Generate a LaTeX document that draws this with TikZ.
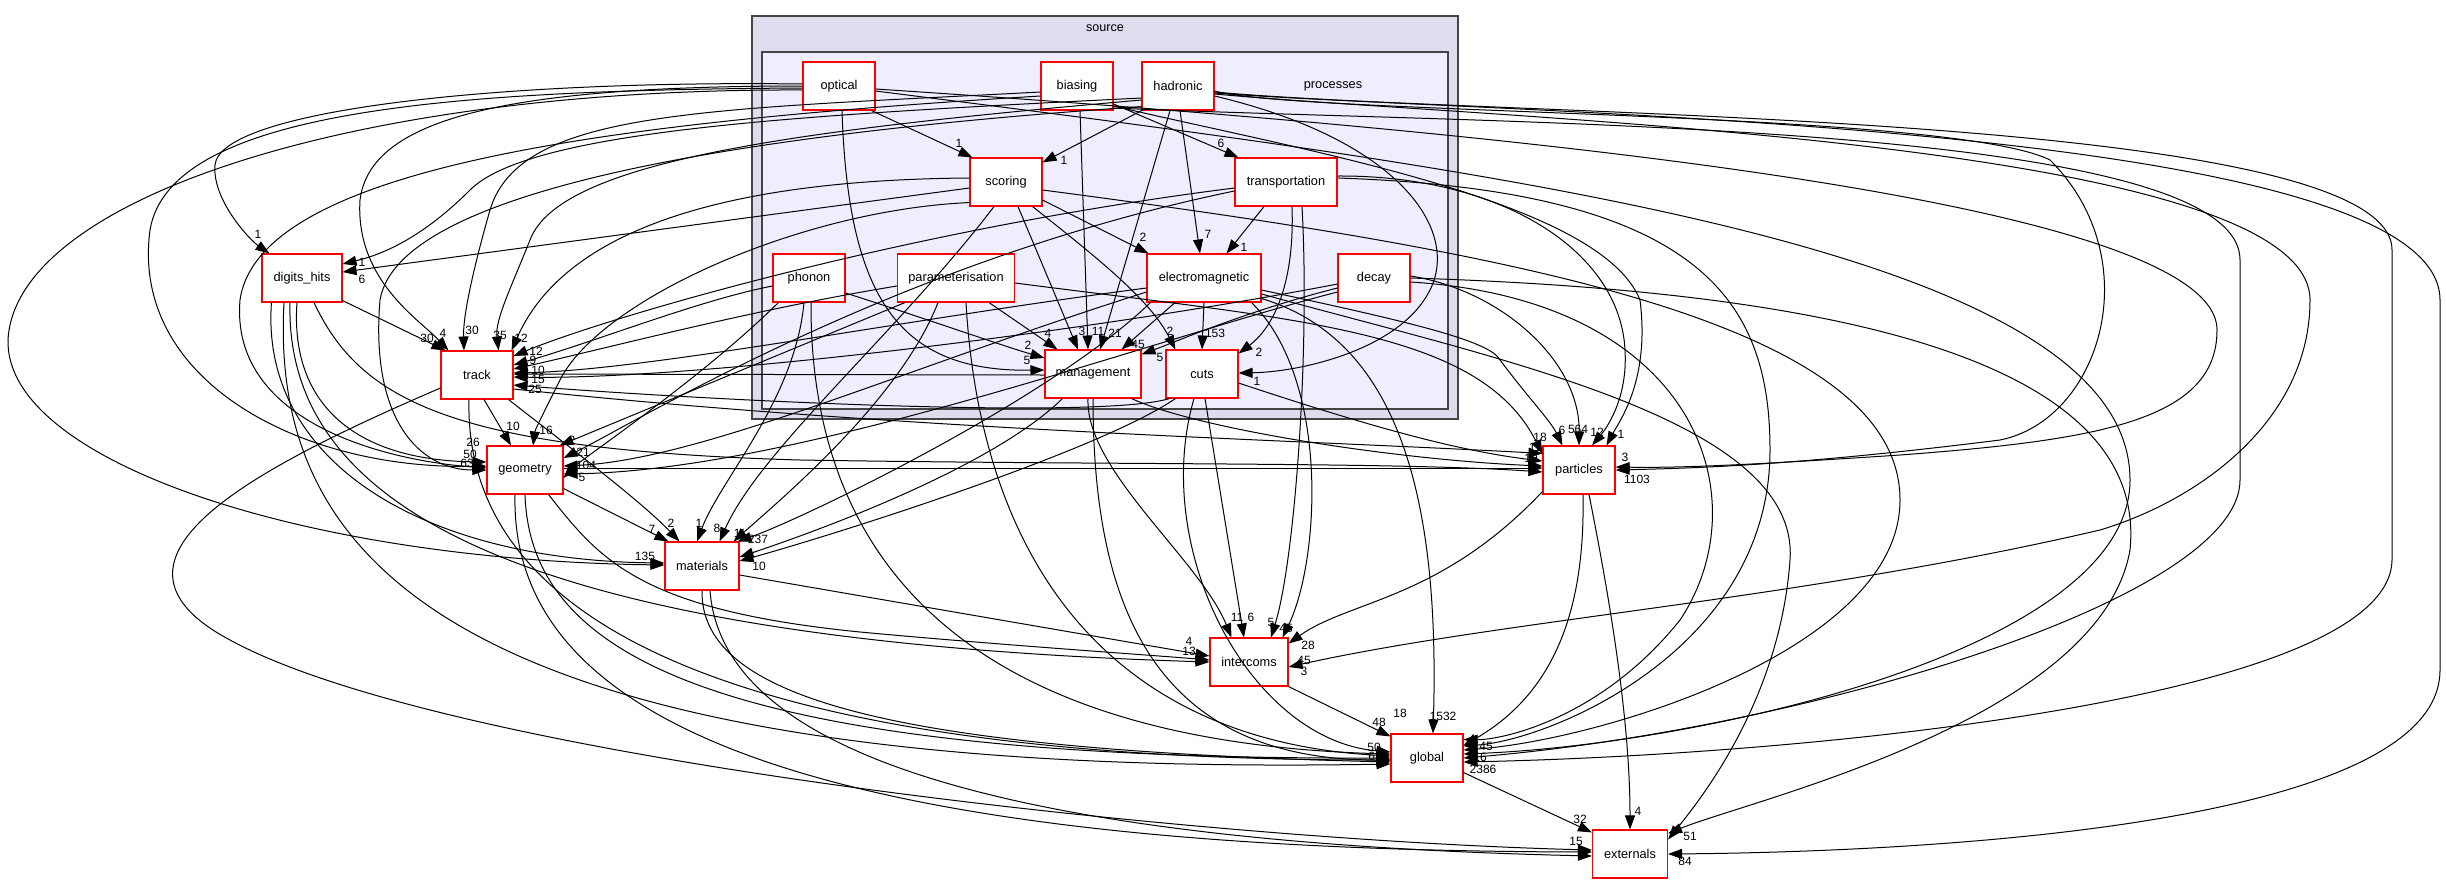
\documentclass[tikz,border=0pt]{standalone}
\usepackage{fontspec}
\setmainfont{Liberation Sans}
\usetikzlibrary{arrows.meta,calc}
\definecolor{srcfill}{HTML}{DDDDEE}
\definecolor{procfill}{HTML}{EEEEFF}
\definecolor{clline}{HTML}{444444}
\begin{document}
\begin{tikzpicture}[x=1pt,y=-1pt,
  dirbox/.style={draw=red, line width=1.1pt, fill=white, minimum height=48pt, minimum width=72pt, inner sep=0pt, font=\fontsize{12.8}{14}\selectfont},
  edge/.style={draw=black, line width=1pt, -{Triangle[length=14pt,width=10pt]}},
  lab/.style={font=\fontsize{12}{14}\selectfont, inner sep=0pt},
  cl/.style={draw=clline, line width=2pt}
]
\useasboundingbox (0,0) rectangle (2446,884);
\fill[white] (0,0) rectangle (2446,884);
% clusters
\draw[cl, fill=srcfill] (752,16) rectangle (1458,419);
\node[font=\fontsize{12.6}{14}\selectfont, inner sep=0pt] (srclab) at (1105,28) {source};
\draw[cl, fill=procfill] (762,52) rectangle (1448,409);
\node[font=\fontsize{12.8}{14}\selectfont, inner sep=0pt] (proclab) at (1333,86) {processes};
% nodes
\node[dirbox] (optical) at (839,86) {optical};
\node[dirbox] (biasing) at (1077,86) {biasing};
\node[dirbox] (hadronic) at (1178,86) {hadronic};
\node[dirbox] (scoring) at (1006,182) {scoring};
\node[dirbox, minimum width=102pt] (transportation) at (1286,182) {transportation};
\node[dirbox] (phonon) at (809,278) {phonon};
\node[dirbox, minimum width=117pt] (param) at (956,278) {parameterisation};
\node[dirbox, minimum width=114pt] (em) at (1204,278) {electromagnetic};
\node[dirbox] (decay) at (1374,278) {decay};
\node[dirbox, minimum width=96pt] (management) at (1093,374) {management};
\node[dirbox] (cuts) at (1202,374) {cuts};
\node[dirbox, minimum width=80pt] (digits) at (302,278) {digits\_hits};
\node[dirbox] (track) at (477,375) {track};
\node[dirbox, minimum width=76pt] (geometry) at (525,470) {geometry};
\node[dirbox, minimum width=74pt] (materials) at (702,566) {materials};
\node[dirbox] (particles) at (1579,470) {particles};
\node[dirbox, minimum width=78pt] (intercoms) at (1249,662) {intercoms};
\node[dirbox] (global) at (1427,758) {global};
\node[dirbox, minimum width=75pt] (externals) at (1630,854) {externals};

% ---------- edges inside processes ----------
\draw[edge] ($(optical.south east)+(-4,0)$) -- ($(scoring.north west)+(3,0)$);
\draw[edge] ($(hadronic.south west)+(4,-2)$) -- ($(scoring.north east)+(0,5)$);
\draw[edge] ($(biasing.east)+(0,18)$) -- ($(transportation.north west)+(4,0)$);
\draw[edge] ($(hadronic.south)+(2,0)$) -- ($(em.north)+(-4,0)$);
\draw[edge] ($(scoring.east)+(0,18)$) -- ($(em.north west)+(2,0)$);
\draw[edge] ($(transportation.south)+(-22,0)$) -- ($(em.north east)+(-35,0)$);
\draw[edge] ($(scoring.south)+(12,0)$) -- ($(management.north)+(-15,0)$);
\draw[edge] ($(biasing.south)+(3,0)$) -- ($(management.north)+(-5,0)$);
\draw[edge] ($(hadronic.south)+(-8,0)$) -- ($(management.north)+(7,0)$);
\draw[edge] ($(param.south)+(33,0)$) -- ($(management.north west)+(13,0)$);
\draw[edge] ($(phonon.east)+(0,15)$) .. controls (930,320) and (1000,345) .. ($(management.west)+(0,-16)$);
\draw[edge] ($(optical.south)+(3,0)$) .. controls (848,300) and (900,372) .. ($(management.west)+(0,-4)$);
\draw[edge] ($(em.south)+(-29,0)$) -- ($(management.north east)+(-20,0)$);
\draw[edge] ($(decay.west)+(0,10)$) .. controls (1250,310) and (1180,340) .. ($(management.north east)+(0,5)$);
\draw[edge] ($(scoring.south east)+(-10,0)$) .. controls (1100,260) and (1150,300) .. ($(cuts.north west)+(10,0)$);
\draw[edge] (em.south) -- (cuts.north);
\draw[edge] ($(transportation.south)+(6,0)$) .. controls (1295,290) and (1270,330) .. ($(cuts.north east)+(0,4)$);
\draw[edge] ($(hadronic.east)+(0,10)$) .. controls (1400,140) and (1460,230) .. (1430,290) .. controls (1400,350) and (1300,372) .. ($(cuts.east)+(0,-1)$);

% ---------- edges among outer dirs ----------
\draw[edge] ($(digits.south east)+(0,-2)$) -- ($(track.north west)+(5,0)$);
\draw[edge] ($(track.south)+(7,0)$) -- ($(geometry.north)+(-14,0)$);
\draw[edge] ($(track.south east)+(-5,0)$) .. controls (560,440) and (640,500) .. ($(materials.north west)+(15,0)$);
\draw[edge] ($(geometry.south east)+(0,-6)$) -- ($(materials.north west)+(4,0)$);
\draw[edge] (intercoms.south east) -- ($(global.north west)+(0,3)$);
\draw[edge] ($(global.south east)+(0,-10)$) -- ($(externals.north west)+(0,3)$);
\draw[edge] ($(particles.south west)+(0,-3)$) .. controls (1440,600) and (1350,600) .. ($(intercoms.north east)+(0,6)$);
\draw[edge] ($(particles.south)+(4,0)$) .. controls (1585,600) and (1560,690) .. ($(global.north east)+(0,12)$);
\draw[edge] ($(particles.south)+(10,0)$) .. controls (1610,600) and (1630,720) .. (externals.north);
\draw[edge] ($(materials.east)+(0,9)$) -- ($(intercoms.west)+(0,-6)$);
\draw[edge] (materials.south) .. controls (700,700) and (900,750) .. ($(global.west)+(0,4)$);
\draw[edge] ($(materials.south)+(8,0)$) .. controls (720,720) and (900,840) .. ($(externals.west)+(0,2)$);
\draw[edge] ($(geometry.south east)+(-15,0)$) .. controls (600,560) and (640,610) .. (860,632) .. controls (1000,645) and (1150,655) .. ($(intercoms.west)+(0,-2)$);
\draw[edge] (geometry.south) .. controls (530,650) and (700,760) .. ($(global.west)+(0,0)$);
\draw[edge] ($(geometry.south)+(-10,0)$) .. controls (510,720) and (800,850) .. ($(externals.west)+(0,-2)$);
\draw[edge] ($(track.west)+(0,13)$) .. controls (250,470) and (80,560) .. (230,640) .. controls (450,760) and (1200,840) .. ($(externals.west)+(0,-4)$);
\draw[edge] ($(track.south)+(-8,0)$) .. controls (465,560) and (600,760) .. ($(global.west)+(0,2)$);
\draw[edge] ($(track.east)+(0,14)$) .. controls (900,430) and (1300,440) .. ($(particles.north west)+(0,8)$);
\draw[edge] ($(digits.south)+(-5,0)$) .. controls (290,400) and (350,460) .. ($(geometry.west)+(0,-8)$);
\draw[edge] ($(digits.south)+(-12,0)$) .. controls (285,500) and (500,640) .. ($(intercoms.west)+(0,0)$);
\draw[edge] ($(digits.south)+(-18,0)$) .. controls (270,560) and (450,780) .. ($(global.west)+(0,6)$);
\draw[edge] ($(digits.south)+(12,0)$) .. controls (360,400) and (450,450) .. (800,460) .. controls (1100,465) and (1400,462) .. ($(particles.west)+(0,2)$);
\draw[edge] ($(digits.south west)+(10,0)$) .. controls (260,460) and (420,560) .. ($(materials.west)+(0,-3)$);
\draw[edge] ($(geometry.east)+(0,-2)$) -- ($(particles.west)+(0,-2)$);

% ---------- optical ----------
\draw[edge] ($(optical.west)+(0,-2)$) .. controls (500,80) and (220,110) .. (215,165) .. controls (212,200) and (250,240) .. ($(digits.north west)+(8,0)$);
\draw[edge] (optical.west) .. controls (500,86) and (370,120) .. (360,200) .. controls (355,280) and (420,320) .. ($(track.north west)+(8,0)$);
\draw[edge] ($(optical.west)+(0,2)$) .. controls (450,90) and (170,110) .. (150,230) .. controls (130,380) and (300,470) .. ($(geometry.west)+(0,-4)$);
\draw[edge] ($(optical.west)+(0,4)$) .. controls (350,88) and (15,200) .. (8,340) .. controls (5,460) and (300,560) .. ($(materials.west)+(0,-1)$);
\draw[edge] ($(optical.east)+(0,5)$) .. controls (1500,170) and (2130,250) .. (2130,480) .. controls (2130,650) and (1700,745) .. ($(global.east)+(0,-4)$);
\draw[edge] ($(optical.east)+(0,3)$) .. controls (1500,130) and (2217,200) .. (2217,330) .. controls (2217,420) and (2100,440) .. (1900,455) .. controls (1750,465) and (1680,468) .. ($(particles.east)+(0,-3)$);

% ---------- biasing ----------
\draw[edge] ($(biasing.west)+(0,6)$) .. controls (700,110) and (520,110) .. (490,210) .. controls (470,280) and (463,320) .. ($(track.north)+(-13,0)$);
\draw[edge] ($(biasing.west)+(0,10)$) .. controls (650,120) and (260,160) .. (240,300) .. controls (230,420) and (380,460) .. ($(geometry.west)+(0,-2)$);
\draw[edge] ($(biasing.east)+(0,20)$) .. controls (1300,150) and (1600,200) .. (1640,300) .. controls (1650,380) and (1620,420) .. ($(particles.north east)+(-9,0)$);
\draw[edge] ($(biasing.east)+(0,22)$) .. controls (1500,125) and (2240,120) .. (2240,260) -- (2240,480) .. controls (2240,600) and (1800,730) .. ($(global.east)+(0,0)$);

% ---------- hadronic ----------
\draw[edge] ($(hadronic.west)+(0,12)$) .. controls (800,115) and (530,130) .. (470,190) .. controls (420,240) and (380,255) .. ($(digits.east)+(0,-14)$);
\draw[edge] ($(hadronic.west)+(0,14)$) .. controls (800,130) and (560,160) .. (530,240) .. controls (510,290) and (495,320) .. ($(track.north east)+(-15,0)$);
\draw[edge] ($(hadronic.south west)+(0,-4)$) .. controls (800,130) and (400,180) .. (380,300) .. controls (370,420) and (420,470) .. ($(geometry.west)+(0,0)$);
\draw[edge] ($(hadronic.east)+(0,5)$) .. controls (1300,115) and (1950,110) .. (2050,160) .. controls (2150,260) and (2100,420) .. (2000,440) .. controls (1800,465) and (1700,468) .. (particles.east);
\draw[edge] ($(hadronic.east)+(0,6)$) .. controls (1500,118) and (2392,110) .. (2392,250) -- (2392,560) .. controls (2390,700) and (1800,755) .. ($(global.east)+(0,4)$);
\draw[edge] ($(hadronic.east)+(0,7)$) .. controls (1500,115) and (2440,120) .. (2440,300) -- (2440,670) .. controls (2440,830) and (1900,852) .. (externals.east);
\draw[edge] ($(hadronic.east)+(0,8)$) .. controls (1500,120) and (2310,140) .. (2310,300) .. controls (2310,420) and (2200,500) .. (2100,530) .. controls (1800,600) and (1500,620) .. ($(intercoms.east)+(0,5)$);

% ---------- scoring ----------
\draw[edge] ($(scoring.west)+(0,6)$) -- ($(digits.east)+(0,-6)$);
\draw[edge] ($(scoring.west)+(0,-4)$) .. controls (700,180) and (560,240) .. ($(track.north east)+(-2,0)$);
\draw[edge] ($(scoring.south west)+(0,-4)$) .. controls (800,210) and (600,300) .. (560,380) .. controls (545,410) and (535,430) .. ($(geometry.north)+(8,0)$);
\draw[edge] ($(scoring.south)+(-12,0)$) .. controls (900,330) and (760,450) .. ($(materials.north east)+(-20,0)$);
\draw[edge] ($(scoring.east)+(0,8)$) .. controls (1500,250) and (1900,320) .. (1900,500) .. controls (1900,650) and (1600,740) .. ($(global.east)+(0,-8)$);

% ---------- transportation ----------
\draw[edge] ($(transportation.west)+(0,6)$) .. controls (900,230) and (600,320) .. ($(track.east)+(0,-19)$);
\draw[edge] ($(transportation.west)+(0,9)$) .. controls (900,260) and (640,420) .. ($(geometry.east)+(0,-12)$);
\draw[edge] ($(transportation.east)+(0,-6)$) .. controls (1500,175) and (1620,250) .. (1625,350) .. controls (1628,400) and (1605,430) .. ($(particles.north)+(13,0)$);
\draw[edge] ($(transportation.east)+(0,-4)$) .. controls (1700,190) and (1770,300) .. (1770,450) .. controls (1770,650) and (1550,740) .. ($(global.east)+(0,-12)$);
\draw[edge] ($(transportation.south)+(16,0)$) .. controls (1310,350) and (1295,560) .. ($(intercoms.north)+(22,0)$);

% ---------- phonon ----------
\draw[edge] ($(phonon.west)+(0,8)$) .. controls (700,300) and (600,340) .. ($(track.east)+(0,-10)$);
\draw[edge] ($(phonon.south)+(-5,0)$) .. controls (795,400) and (720,480) .. ($(materials.north)+(-5,0)$);
\draw[edge] ($(phonon.south west)+(6,0)$) .. controls (700,380) and (580,460) .. ($(geometry.east)+(0,8)$);
\draw[edge] ($(phonon.south)+(2,0)$) .. controls (810,500) and (900,740) .. ($(global.west)+(0,-4)$);

% ---------- parameterisation ----------
\draw[edge] ($(param.west)+(0,8)$) .. controls (750,310) and (600,350) .. ($(track.east)+(0,-6)$);
\draw[edge] ($(param.south west)+(8,0)$) -- ($(geometry.north east)+(-4,0)$);
\draw[edge] ($(param.south)+(-18,0)$) .. controls (900,400) and (780,500) .. ($(materials.north east)+(-6,0)$);
\draw[edge] ($(param.east)+(0,5)$) .. controls (1300,320) and (1480,330) .. ($(particles.west)+(0,-16)$);
\draw[edge] ($(param.south)+(10,0)$) .. controls (980,550) and (1100,740) .. ($(global.west)+(0,-2)$);

% ---------- electromagnetic ----------
\draw[edge] ($(em.west)+(0,10)$) .. controls (900,320) and (650,370) .. ($(track.east)+(0,-2)$);
\draw[edge] ($(em.west)+(0,14)$) .. controls (900,370) and (700,460) .. ($(geometry.east)+(0,-4)$);
\draw[edge] ($(em.south west)+(4,0)$) .. controls (1050,400) and (800,520) .. ($(materials.north east)+(-2,0)$);
\draw[edge] ($(em.east)+(0,12)$) .. controls (1400,320) and (1490,340) .. (1500,360) .. controls (1530,400) and (1550,420) .. ($(particles.north west)+(20,0)$);
\draw[edge] ($(em.south east)+(-10,0)$) .. controls (1330,380) and (1320,560) .. ($(intercoms.north east)+(-6,0)$);
\draw[edge] ($(em.south east)+(0,-4)$) .. controls (1400,340) and (1440,500) .. ($(global.north)+(6,0)$);
\draw[edge] ($(em.east)+(0,16)$) .. controls (1500,360) and (1800,420) .. (1790,560) .. controls (1780,700) and (1700,800) .. ($(externals.north east)+(0,10)$);

% ---------- decay ----------
\draw[edge] ($(decay.west)+(0,6)$) .. controls (1100,330) and (700,380) .. ($(track.east)+(0,2)$);
\draw[edge] ($(decay.west)+(0,14)$) .. controls (1150,340) and (800,470) .. ($(geometry.east)+(0,4)$);
\draw[edge] ($(decay.east)+(0,-2)$) .. controls (1500,290) and (1580,360) .. (particles.north);
\draw[edge] ($(decay.east)+(0,4)$) .. controls (1700,300) and (1760,500) .. (1680,620) .. controls (1600,720) and (1500,740) .. ($(global.north east)+(0,6)$);
\draw[edge] (decay.east) .. controls (1800,290) and (2150,350) .. (2130,550) .. controls (2100,720) and (1750,800) .. ($(externals.north east)+(0,4)$);

% ---------- management ----------
\draw[edge] ($(management.west)+(0,1)$) -- ($(track.east)+(0,-1)$);
\draw[edge] ($(management.south east)+(-10,0)$) .. controls (1200,430) and (1400,460) .. ($(particles.west)+(0,-4)$);
\draw[edge] ($(management.south)+(-5,0)$) .. controls (1085,470) and (1200,560) .. ($(intercoms.north west)+(22,0)$);
\draw[edge] (management.south) .. controls (1093,600) and (1150,760) .. ($(global.west)+(0,2)$);
\draw[edge] ($(management.south west)+(18,0)$) .. controls (1000,460) and (850,520) .. ($(materials.east)+(0,-9)$);

% ---------- cuts ----------
\draw[edge] ($(cuts.south west)+(4,0)$) .. controls (1100,420) and (700,400) .. ($(track.east)+(0,10)$);
\draw[edge] ($(cuts.east)+(0,9)$) .. controls (1350,420) and (1450,450) .. ($(particles.west)+(0,-9)$);
\draw[edge] ($(cuts.south)+(3,0)$) -- ($(intercoms.north)+(-5,0)$);
\draw[edge] ($(cuts.south)+(-8,0)$) .. controls (1150,550) and (1250,740) .. ($(global.west)+(0,-6)$);
\draw[edge] ($(cuts.south west)+(10,0)$) .. controls (1100,450) and (850,530) .. ($(materials.east)+(0,-5)$);

% ---------- labels ----------
\node[lab] (a1) at (959,143) {1};
\node[lab] (a2) at (1064,160) {1};
\node[lab] (a3) at (1221,143) {6};
\node[lab] (a4) at (1208,234) {7};
\node[lab] (a5) at (1143,237) {2};
\node[lab] (a6) at (1244,247) {1};
\node[lab] (a7) at (1082,331) {3};
\node[lab] (a8) at (1098,331) {11};
\node[lab] (a9) at (1115,333) {21};
\node[lab] (a10) at (1048,333) {4};
\node[lab] (a11) at (1028,345) {2};
\node[lab] (a12) at (1027,360) {5};
\node[lab] (a13) at (1138,344) {45};
\node[lab] (a14) at (1160,357) {5};
\node[lab] (a15) at (1170,331) {2};
\node[lab] (a16) at (1215,333) {153};
\node[lab] (a17) at (1259,352) {2};
\node[lab] (a18) at (1257,381) {1};
\node[lab] (b1) at (427,338) {30};
\node[lab] (b2) at (443,333) {4};
\node[lab] (b3) at (472,330) {30};
\node[lab] (b4) at (500,335) {35};
\node[lab] (b5) at (521,338) {12};
\node[lab] (b6) at (536,351) {12};
\node[lab] (b7) at (533,360.5) {9};
\node[lab] (b8) at (538,370) {10};
\node[lab] (b9) at (538,379.5) {15};
\node[lab] (b10) at (535,389.5) {25};
\node[lab] (b11) at (513,426) {10};
\node[lab] (b12) at (546,430) {16};
\node[lab] (b13) at (572,440) {2};
\node[lab] (b14) at (473,442) {26};
\node[lab] (b15) at (470,454) {50};
\node[lab] (b16) at (467,463.5) {63};
\node[lab] (b17) at (583,452) {21};
\node[lab] (b18) at (586,465) {104};
\node[lab] (b19) at (582,477) {5};
\node[lab] (b20) at (258,234) {1};
\node[lab] (b21) at (362,262) {1};
\node[lab] (b22) at (362,279) {6};
\node[lab] (c1) at (652,529) {7};
\node[lab] (c2) at (671,523) {2};
\node[lab] (c3) at (699,523) {1};
\node[lab] (c4) at (717,528) {8};
\node[lab] (c5) at (740,533) {11};
\node[lab] (c6) at (758,539) {237};
\node[lab] (c7) at (645,556) {135};
\node[lab] (c8) at (759,566) {10};
\node[lab] (d1) at (1562,430) {6};
\node[lab] (d2) at (1578,429) {564};
\node[lab] (d3) at (1597,432) {12};
\node[lab] (d4) at (1621,434) {1};
\node[lab] (d5) at (1540,437) {18};
\node[lab] (d6) at (1535,447) {11};
\node[lab] (d7) at (1531,458) {19};
\node[lab] (d8) at (1625,457) {3};
\node[lab] (d9) at (1637,479) {1103};
\node[lab] (e1) at (1237,617) {11};
\node[lab] (e2) at (1251,617) {6};
\node[lab] (e3) at (1271,622) {5};
\node[lab] (e4) at (1286,628) {45};
\node[lab] (e5) at (1189,641) {4};
\node[lab] (e6) at (1189,651) {13};
\node[lab] (e7) at (1308,645) {28};
\node[lab] (e8) at (1304,660) {45};
\node[lab] (e9) at (1304,671) {3};
\node[lab] (f1) at (1379,722) {48};
\node[lab] (f2) at (1400,713) {18};
\node[lab] (f3) at (1443,716) {1532};
\node[lab] (f4) at (1374,747) {50};
\node[lab] (f5) at (1375,756.5) {63};
\node[lab] (f6) at (1486,746) {45};
\node[lab] (f7) at (1480,757) {16};
\node[lab] (f8) at (1483,769) {2386};
\node[lab] (g1) at (1580,819) {32};
\node[lab] (g2) at (1638,811) {4};
\node[lab] (g3) at (1690,836) {51};
\node[lab] (g4) at (1685,861) {84};
\node[lab] (g5) at (1576,841) {15};
\end{tikzpicture}
\end{document}
